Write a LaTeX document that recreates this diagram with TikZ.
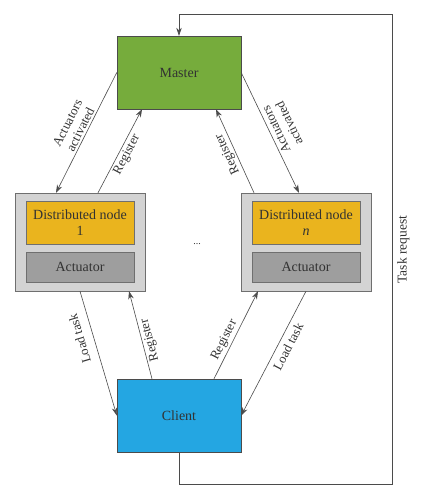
\documentclass[tikz,border=0pt]{standalone}
\usepackage{fontspec}
\setmainfont{Liberation Serif}
\usetikzlibrary{shapes.geometric, arrows.meta}
\definecolor{mastergreen}{RGB}{118,172,60}
\definecolor{clientblue}{RGB}{36,166,226}
\definecolor{nodeyellow}{RGB}{234,180,30}
\definecolor{boxgray}{RGB}{211,211,211}
\definecolor{actgray}{RGB}{158,158,158}
\definecolor{linegray}{RGB}{75,75,75}
\definecolor{textgray}{RGB}{50,50,50}
\tikzstyle{master} = [rectangle, minimum width=124pt, minimum height=73pt, text centered, draw=linegray, fill=mastergreen, text=textgray, font=\fontsize{14}{16.5}\selectfont]
\tikzstyle{client} = [rectangle, minimum width=124pt, minimum height=73pt, text centered, draw=linegray, fill=clientblue, text=textgray, font=\fontsize{14}{16.5}\selectfont]
\tikzstyle{nodebox} = [rectangle, minimum width=130pt, minimum height=98pt, draw=linegray!80, fill=boxgray]
\tikzstyle{distnode} = [rectangle, minimum width=108pt, minimum height=43pt, align=center, draw=linegray!80, fill=nodeyellow, text=textgray, font=\fontsize{14}{16.5}\selectfont]
\tikzstyle{actuator} = [rectangle, minimum width=108pt, minimum height=30pt, text centered, draw=linegray!80, fill=actgray, text=textgray, font=\fontsize{14}{16.5}\selectfont]
\tikzstyle{edgetext} = [sloped, align=center, inner sep=2pt, text=textgray, font=\fontsize{13}{14.5}\selectfont]
\tikzstyle{arrow} = [line width=0.6pt, draw=linegray, -{Stealth[length=8pt,width=5.5pt]}]

\begin{document}
\begin{tikzpicture}[node distance=2cm]
  \useasboundingbox (0,0) rectangle (429pt,-500pt);

  \node (master) [master] at (179pt,-72.5pt) {Master};
  \node (client) [client, node distance=343pt, below of=master] {Client};
  \node (dn1) [nodebox, node distance=169.5pt, below of=master, xshift=-99pt] {};
  \node (dnn) [nodebox, node distance=169.5pt, below of=master, xshift=127pt] {};
  \node (dist1) [distnode, node distance=19.5pt, above of=dn1] {Distributed node\\1};
  \node (act1) [actuator, node distance=25pt, below of=dn1] {Actuator};
  \node (distn) [distnode, node distance=19.5pt, above of=dnn] {Distributed node\\\textit{n}};
  \node (actn) [actuator, node distance=25pt, below of=dnn] {Actuator};
  \node (dots) [text=textgray, node distance=117pt, right of=dn1, yshift=-2pt] {...};
  \coordinate (taskcorner) at ([xshift=213pt, yshift=21pt]master.north);

  \draw [arrow] (master.west) -- node[edgetext, above] (lblact1) {Actuators\\activated} ([xshift=-24pt]dn1.north);
  \draw [arrow] ([xshift=18pt]dn1.north) -- node[edgetext, below] (lblreg1) {Register} ([xshift=-37pt]master.south);
  \draw [arrow] ([xshift=-52pt]dnn.north) -- node[edgetext, rotate=180, above] (lblregn) {Register} ([xshift=37pt]master.south);
  \draw [arrow] (master.east) -- node[edgetext, rotate=180, below] (lblactn) {Actuators\\activated} ([xshift=-7pt]dnn.north);
  \draw [arrow] (dn1.south) -- node[edgetext, rotate=180, above=7pt, pos=0.35] (lblload1) {Load task} (client.west);
  \draw [arrow] ([xshift=-27pt]client.north) -- node[edgetext, rotate=180, below, pos=0.42] (lblcreg1) {Register} ([xshift=49pt]dn1.south);
  \draw [arrow] ([xshift=35pt]client.north) -- node[edgetext, above, pos=0.4] (lblcregn) {Register} ([xshift=-48pt]dnn.south);
  \draw [arrow] (dnn.south) -- node[edgetext, below=3pt, pos=0.41] (lblloadn) {Load task} (client.east);
  \draw [arrow] (client.south) -- ++(0,-32pt) -| node[pos=0.75, rotate=90, below, inner sep=5pt, text=textgray, font=\fontsize{13.5}{15}\selectfont] (lbltask) {Task request} (taskcorner) -| (master.north);

\end{tikzpicture}
\end{document}
